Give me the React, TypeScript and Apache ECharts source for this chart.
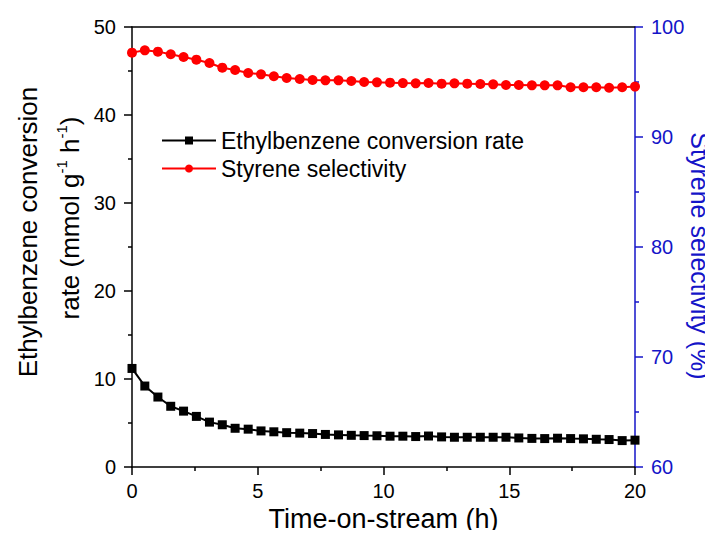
import React, { useEffect, useRef } from "react";
import * as echarts from "echarts";

const timeHours = [
  0, 0.51, 1.03, 1.54, 2.05, 2.56, 3.08, 3.59, 4.1, 4.62, 5.13, 5.64, 6.15, 6.67,
  7.18, 7.69, 8.21, 8.72, 9.23, 9.74, 10.26, 10.77, 11.28, 11.79, 12.31, 12.82,
  13.33, 13.85, 14.36, 14.87, 15.38, 15.9, 16.41, 16.92, 17.44, 17.95, 18.46,
  18.97, 19.49, 20.0,
];

const conversionRate = [
  11.2, 9.2, 7.95, 6.9, 6.35, 5.75, 5.1, 4.8, 4.4, 4.3, 4.1, 4.0, 3.9, 3.85, 3.8,
  3.7, 3.65, 3.6, 3.57, 3.55, 3.5, 3.5, 3.46, 3.52, 3.42, 3.38, 3.38, 3.38, 3.38,
  3.38, 3.3, 3.25, 3.23, 3.27, 3.23, 3.2, 3.15, 3.12, 3.0, 3.05,
];

const styreneSelectivity = [
  97.67, 97.88, 97.76, 97.52, 97.27, 97.03, 96.73, 96.3, 96.09, 95.82, 95.7,
  95.52, 95.36, 95.27, 95.18, 95.15, 95.15, 95.09, 95.0, 94.97, 94.94, 94.9,
  94.88, 94.91, 94.85, 94.88, 94.85, 94.82, 94.79, 94.73, 94.73, 94.7, 94.7,
  94.7, 94.52, 94.52, 94.52, 94.48, 94.52, 94.58,
];

const seriesNames = ["Ethylbenzene conversion rate", "Styrene selectivity"];
const leftTitleLine1 = "Ethylbenzene conversion";
const leftTitleLine2 = "rate (mmol g{sup|-1} h{sup|-1})";
const rightTitle = "Styrene selectivity (%)";
const xTitle = "Time-on-stream (h)";

const FONT = "Liberation Sans, Arial, sans-serif";
const BLUE = "#1414c8";

export default function App() {
  const ref = useRef<HTMLDivElement>(null);

  useEffect(() => {
    if (!ref.current) return;
    const chart = echarts.init(ref.current, null, { renderer: "svg" });
    const convData = timeHours.map((t, i) => [t, conversionRate[i]]);
    const selData = timeHours.map((t, i) => [t, styreneSelectivity[i]]);

    chart.setOption({
      animation: false,
      backgroundColor: "#ffffff",
      textStyle: { fontFamily: FONT },
      grid: {
        left: 132,
        right: 78,
        top: 27,
        bottom: 71,
        containLabel: false,
        outerBoundsMode: "none",
      },
      legend: {
        orient: "vertical",
        left: 156,
        top: 124,
        itemWidth: 54,
        itemHeight: 10,
        itemGap: 5,
        data: seriesNames,
        textStyle: { fontSize: 23, color: "#000", fontFamily: FONT },
      },
      graphic: [
        {
          type: "text",
          x: 28,
          y: 232,
          rotation: Math.PI / 2,
          silent: true,
          style: {
            text: leftTitleLine1,
            fontSize: 26,
            fontFamily: FONT,
            fill: "#000",
            align: "center",
            verticalAlign: "middle",
          },
        },
        {
          type: "text",
          x: 70,
          y: 218,
          rotation: Math.PI / 2,
          silent: true,
          style: {
            text: leftTitleLine2,
            fontSize: 26,
            fontFamily: FONT,
            fill: "#000",
            align: "center",
            verticalAlign: "middle",
            rich: {
              sup: { fontSize: 15, lineHeight: 15, padding: [0, 0, 18, 0], fill: "#000", fontFamily: FONT },
            },
          },
        },
        {
          type: "text",
          x: 700,
          y: 256,
          rotation: -Math.PI / 2,
          silent: true,
          style: {
            text: rightTitle,
            fontSize: 25,
            fontFamily: FONT,
            fill: BLUE,
            align: "center",
            verticalAlign: "middle",
          },
        },
      ],
      xAxis: [
        {
          type: "value",
          min: 0,
          max: 20,
          interval: 5,
          name: xTitle,
          nameLocation: "middle",
          nameGap: 38,
          nameTextStyle: { fontSize: 27, color: "#000", fontFamily: FONT },
          axisLine: { show: true, onZero: false, lineStyle: { color: "#000", width: 1.5 } },
          axisTick: { show: true, inside: false, length: 8, lineStyle: { color: "#000", width: 1.5 } },
          minorTick: { show: true, splitNumber: 2, length: 4, lineStyle: { color: "#000", width: 1.5 } },
          axisLabel: { fontSize: 20, color: "#000", margin: 14, fontFamily: FONT },
          splitLine: { show: false },
        },
        {
          type: "value",
          position: "top",
          min: 0,
          max: 20,
          axisLine: { show: true, onZero: false, lineStyle: { color: "#000", width: 1.5 } },
          axisTick: { show: false },
          axisLabel: { show: false },
          splitLine: { show: false },
        },
      ],
      yAxis: [
        {
          type: "value",
          min: 0,
          max: 50,
          interval: 10,
          position: "left",
          axisLine: { show: true, onZero: false, lineStyle: { color: "#000", width: 1.5 } },
          axisTick: { show: true, inside: false, length: 8, lineStyle: { color: "#000", width: 1.5 } },
          minorTick: { show: true, splitNumber: 2, length: 4, lineStyle: { color: "#000", width: 1.5 } },
          axisLabel: { fontSize: 20, color: "#000", margin: 16, fontFamily: FONT },
          splitLine: { show: false },
        },
        {
          type: "value",
          min: 60,
          max: 100,
          interval: 10,
          position: "right",
          axisLine: { show: true, onZero: false, lineStyle: { color: BLUE, width: 1.5 } },
          axisTick: { show: true, inside: false, length: 8, lineStyle: { color: BLUE, width: 1.5 } },
          minorTick: { show: true, splitNumber: 2, length: 4, lineStyle: { color: BLUE, width: 1.5 } },
          axisLabel: { fontSize: 20, color: BLUE, margin: 16, fontFamily: FONT },
          splitLine: { show: false },
        },
      ],
      series: [
        {
          name: seriesNames[0],
          type: "line",
          xAxisIndex: 0,
          yAxisIndex: 0,
          data: convData,
          symbol: "rect",
          symbolSize: 9,
          itemStyle: { color: "#000" },
          lineStyle: { color: "#000", width: 2 },
          z: 3,
        },
        {
          name: seriesNames[1],
          type: "line",
          xAxisIndex: 0,
          yAxisIndex: 1,
          data: selData,
          symbol: "circle",
          symbolSize: 10,
          itemStyle: { color: "#ff0000" },
          lineStyle: { color: "#ff0000", width: 2 },
          z: 3,
        },
      ],
    });

    return () => chart.dispose();
  }, []);

  return <div ref={ref} style={{ width: 713, height: 538, margin: -8 }} />;
}
